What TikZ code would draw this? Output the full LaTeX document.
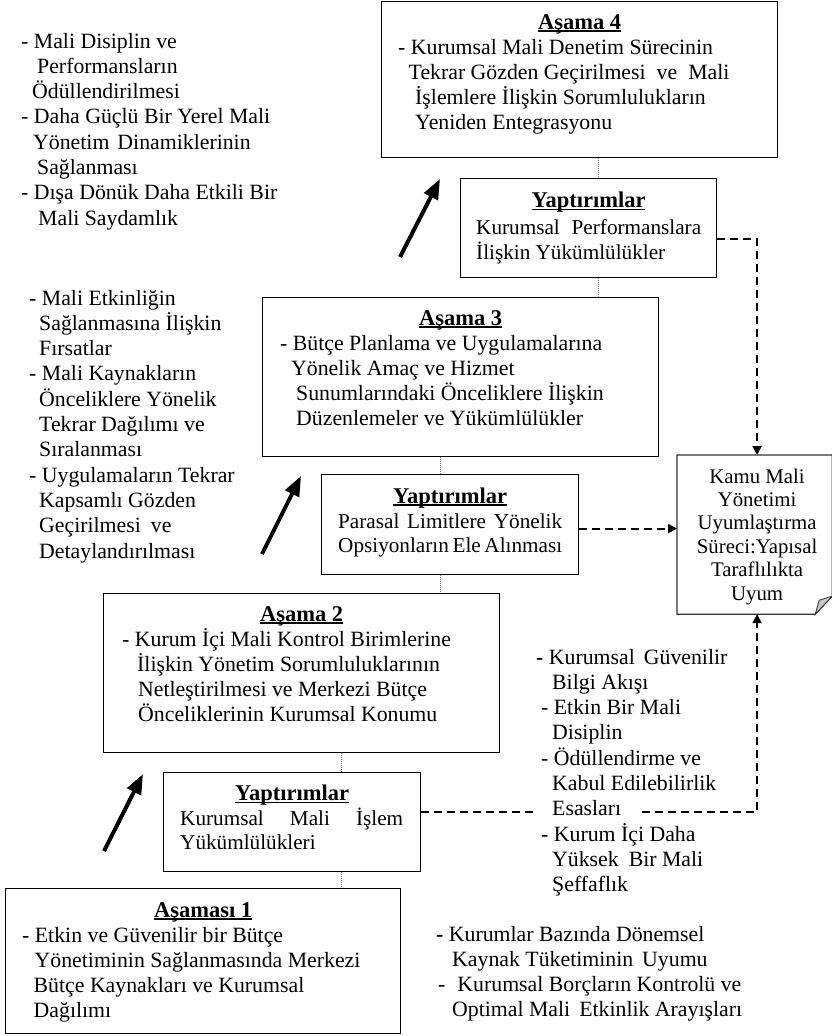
\documentclass[tikz,border=0pt]{standalone}
\usepackage{fontspec}
\setmainfont{Liberation Serif}
\usetikzlibrary{arrows.meta}
\newcommand\myUl[1]{\setbox0\hbox{\bfseries #1}\rlap{\rule[-2.8pt]{\wd0}{1.4pt}}\box0}
\newcommand\myBodyFont{\fontsize{21.8}{25.3}\selectfont}
\newcommand\myYFont{\fontsize{21.2}{24.5}\selectfont}
\begin{document}
\begin{tikzpicture}[x=1pt,y=-1pt,
  box/.style={draw=black, line width=1.2pt, rectangle, inner sep=0pt, anchor=north west},
  txt/.style={align=left, inner sep=0pt, anchor=base west, font=\myBodyFont},
  ytxt/.style={align=left, inner sep=0pt, anchor=base west, font=\myYFont},
  ttl/.style={inner sep=0pt, anchor=base, font=\fontsize{22.5}{25.3}\selectfont},
  dotline/.style={draw=gray, line width=1pt, densely dotted},
  dashline/.style={draw=black, line width=2pt, dash pattern=on 8pt off 5pt, -{Triangle[length=9pt,width=9pt]}},
  bigarrow/.style={line width=4pt, -{Triangle[length=20pt,width=15pt]}}
]
\useasboundingbox (0,0) rectangle (832,1036);

% boxes
\node[box, minimum width=396pt, minimum height=156pt] (a4) at (381,1) {};
\node[box, minimum width=256pt, minimum height=99pt] (y1) at (460,178) {};
\node[box, minimum width=396pt, minimum height=159pt] (a3) at (262,297) {};
\node[box, minimum width=257pt, minimum height=100pt] (y2) at (321,474) {};
\node[box, minimum width=396pt, minimum height=159pt] (a2) at (103,593) {};
\node[box, minimum width=257pt, minimum height=99pt] (y3) at (163,772) {};
\node[box, minimum width=395pt, minimum height=145pt] (a1) at (5,888) {};
\node[box, draw=none, minimum width=154pt, minimum height=158pt] (kmy) at (677,455) {};

% note shape of right box
\draw[line width=1.2pt, draw=gray!40!black] (kmy.north west) -- (kmy.north east) -- ([yshift=18pt]kmy.south east) -- ([xshift=-17pt]kmy.south east) -- (kmy.south west) -- cycle;
\filldraw[fill=gray!45, draw=gray!40!black, line width=0.8pt] ([yshift=18pt]kmy.south east) -- ([xshift=-17pt]kmy.south east) -- ([xshift=-13pt,yshift=14pt]kmy.south east) -- cycle;

% titles
\node[ttl] (t4) at ([yshift=-28pt]a4.north) {\myUl{Aşama 4}};
\node[ttl] (ty1) at ([yshift=-29.5pt]y1.north) {\myUl{Yaptırımlar}};
\node[ttl] (t3) at ([yshift=-28pt]a3.north) {\myUl{Aşama 3}};
\node[ttl] (ty2) at ([yshift=-29pt]y2.north) {\myUl{Yaptırımlar}};
\node[ttl] (t2) at ([yshift=-28pt]a2.north) {\myUl{Aşama 2}};
\node[ttl] (ty3) at ([yshift=-28.5pt]y3.north) {\myUl{Yaptırımlar}};
\node[ttl] (t1) at ([yshift=-29pt]a1.north) {\myUl{Aşaması 1}};

% box texts (anchored at the baseline of their last line)
\node[txt] (x4) at ([xshift=17pt,yshift=-128.9pt]a4.north west) {- Kurumsal Mali Denetim Sürecinin\\
\hspace*{10.5pt}Tekrar Gözden Geçirilmesi\hspace{11pt}ve\hspace{11pt}Mali\\
\hspace*{17pt}İşlemlere İlişkin Sorumlulukların\\
\hspace*{17pt}Yeniden Entegrasyonu};
\node[txt] (x3) at ([xshift=18pt,yshift=-128.9pt]a3.north west) {- Bütçe Planlama ve Uygulamalarına\\
\hspace*{11pt}Yönelik Amaç ve Hizmet\\
\hspace*{16pt}Sunumlarındaki Önceliklere İlişkin\\
\hspace*{16pt}Düzenlemeler ve Yükümlülükler};
\node[txt] (x2) at ([xshift=19pt,yshift=-128.9pt]a2.north west) {- Kurum İçi Mali Kontrol Birimlerine\\
\hspace*{15pt}İlişkin Yönetim Sorumluluklarının\\
\hspace*{16pt}Netleştirilmesi ve Merkezi Bütçe\\
\hspace*{16pt}Önceliklerinin Kurumsal Konumu};
\node[txt] (x1) at ([xshift=17pt,yshift=-129.9pt]a1.north west) {- Etkin ve Güvenilir bir Bütçe\\
\hspace*{12.5pt}Yönetiminin Sağlanmasında Merkezi\\
\hspace*{11.5pt}Bütçe Kaynakları ve Kurumsal\\
\hspace*{11.5pt}Dağılımı};

\node[ytxt] (xy1) at ([xshift=16pt,yshift=-81pt]y1.north west) {\makebox[225pt][s]{Kurumsal Performanslara}\\İlişkin Yükümlülükler};
\node[ytxt] (xy2) at ([xshift=17pt,yshift=-78.5pt]y2.north west) {\makebox[224pt][s]{Parasal Limitlere Yönelik}\\\makebox[224pt][s]{Opsiyonların Ele Alınması}};
\node[ytxt] (xy3) at ([xshift=17pt,yshift=-77.5pt]y3.north west) {\makebox[223pt][s]{Kurumsal Mali İşlem}\\Yükümlülükleri};

\node[inner sep=0pt, anchor=base, align=center, font=\fontsize{20.8}{23.4}\selectfont] (xk) at ([xshift=2.5pt,yshift=-145pt]kmy.north) {Kamu Mali\\Yönetimi\\Uyumlaştırma\\Süreci:Yapısal\\Taraflılıkta\\Uyum};

% side texts
\node[txt] (l1) at (21,225.1) {- Mali Disiplin ve\\
\hspace*{16pt}Performansların\\
\hspace*{11pt}Ödüllendirilmesi\\
- Daha Güçlü Bir Yerel Mali\\
\hspace*{12pt}Yönetim\hspace{8pt}Dinamiklerinin\\
\hspace*{16pt}Sağlanması\\
- Dışa Dönük Daha Etkili Bir\\
\hspace*{17pt}Mali Saydamlık};
\node[txt] (l2) at (29,558) {- Mali Etkinliğin\\
\hspace*{10pt}Sağlanmasına İlişkin\\
\hspace*{10pt}Fırsatlar\\
- Mali Kaynakların\\
\hspace*{10pt}Önceliklere Yönelik\\
\hspace*{10pt}Tekrar Dağılımı ve\\
\hspace*{10pt}Sıralanması\\
- Uygulamaların Tekrar\\
\hspace*{10pt}Kapsamlı Gözden\\
\hspace*{10pt}Geçirilmesi\hspace{10pt}ve\\
\hspace*{10pt}Detaylandırılması};

% connectors
\coordinate (dx1) at (598,0);
\coordinate (dx2) at (440,0);
\coordinate (dx3) at (341,0);
\draw[dotline] (a4.south -| dx1) -- (y1.north -| dx1);
\draw[dotline] (y1.south -| dx1) -- (a3.north -| dx1);
\draw[dotline] (a3.south -| dx2) -- (y2.north -| dx2);
\draw[dotline] (y2.south -| dx2) -- (a2.north -| dx2);
\draw[dotline] (a2.south -| dx3) -- (y3.north -| dx3);
\draw[dotline] (y3.south -| dx3) -- (a1.north -| dx3);

\draw[dashline] ([yshift=-10.5pt]y1.east) -| ([xshift=2.5pt]kmy.north);
\draw[dashline] ([yshift=-4pt]y2.east) -- ([yshift=-4pt]y2.east -| kmy.west);
\draw[dashline] ([yshift=10.5pt]y3.east) -| ([xshift=2.5pt]kmy.south);
\fill[white] (537,800) rectangle (637,822);

\node[txt] (r1) at (536,891.7) {{\bfseries -} Kurumsal\hspace{9pt}Güvenilir\\
\hspace*{16pt}Bilgi Akışı\\
\hspace*{5pt}- Etkin Bir Mali\\
\hspace*{16pt}Disiplin\\
\hspace*{5pt}- Ödüllendirme ve\\
\hspace*{16pt}Kabul Edilebilirlik\\
\hspace*{16pt}Esasları\\
\hspace*{5pt}- Kurum İçi Daha\\
\hspace*{16pt}Yüksek\hspace{10pt}Bir Mali\\
\hspace*{16pt}Şeffaflık};
\node[txt] (r2) at (436,1016.9) {{\bfseries -} Kurumlar Bazında Dönemsel\\
\hspace*{16pt}Kaynak Tüketiminin\hspace{9pt}Uyumu\\
\hspace*{2pt}-\hspace{12pt}Kurumsal Borçların Kontrolü ve\\
\hspace*{16pt}Optimal Mali\hspace{9pt}Etkinlik Arayışları};

% big arrows
\coordinate (ar1s) at (400,257); \coordinate (ar1e) at (440,179);
\coordinate (ar2s) at (262,554); \coordinate (ar2e) at (301,476);
\coordinate (ar3s) at (104,851); \coordinate (ar3e) at (143,774);
\draw[bigarrow] (ar1s) -- (ar1e);
\draw[bigarrow] (ar2s) -- (ar2e);
\draw[bigarrow] (ar3s) -- (ar3e);
\end{tikzpicture}
\end{document}
